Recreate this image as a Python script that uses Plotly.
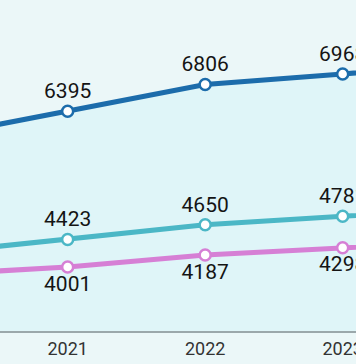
import plotly.graph_objects as go

years = [2020, 2021, 2022, 2023, 2024]
series_a = [5990, 6395, 6806, 6968, 7150]   # dark blue
series_b = [4210, 4423, 4650, 4781, 4920]   # teal
series_c = [3880, 4001, 4187, 4298, 4400]   # pink
tick_years = [2021, 2022, 2023]
tick_labels = ["2021", "2022", "2023"]
visible_years = [2021, 2022, 2023]

Y_MIN = 3017
Y_MAX = 8106

blue = "#1c6cab"
teal = "#4bb7c6"
pink = "#d67fd5"
font = "Roboto"
tick_font = "Liberation Sans Narrow, Roboto"

fig = go.Figure()

# dashed guides from top series down to the axis
for yr, v in zip(years, series_a):
    fig.add_trace(go.Scatter(
        x=[yr, yr], y=[Y_MIN, v], mode="lines",
        line=dict(color="#9eaaad", width=1.2, dash="4px,3px"),
        hoverinfo="skip", showlegend=False))

# area under blue
fig.add_trace(go.Scatter(
    x=years, y=series_a, mode="lines", fill="tozeroy",
    fillcolor="#dff5f8", line=dict(width=0), hoverinfo="skip", showlegend=False))

def add_series(vals, color, pos):
    labels = [str(v) if yr in visible_years else "" for yr, v in zip(years, vals)]
    fig.add_trace(go.Scatter(
        x=years, y=vals, mode="lines+markers+text",
        text=labels, textposition=pos,
        textfont=dict(family=font, size=21, color="#141414"),
        line=dict(color=color, width=5),
        marker=dict(size=11, color="white", line=dict(color=color, width=2.5)),
        cliponaxis=False, showlegend=False))

add_series(series_a, blue, "top center")
add_series(series_b, teal, "top center")
add_series(series_c, pink, "bottom center")

fig.update_layout(
    width=356, height=364,
    margin=dict(l=0, r=0, t=0, b=33, autoexpand=False),
    paper_bgcolor="#ebf7f8", plot_bgcolor="#ebf7f8",
    xaxis=dict(range=[2020.508, 2023.097], tickvals=tick_years, ticktext=tick_labels,
               showgrid=False, zeroline=False, showline=True, automargin=False,
               linecolor="#9ba8ab", linewidth=2, ticklabeloverflow="allow",
               tickfont=dict(family=tick_font, size=18, color="#333333"), ticks=""),
    yaxis=dict(range=[Y_MIN, Y_MAX], visible=False, showgrid=False, zeroline=False,
               automargin=False),
)

fig.write_html("out.html", config={"displayModeBar": False},
               post_script="document.body.style.margin='0';document.body.style.overflow='hidden';")
